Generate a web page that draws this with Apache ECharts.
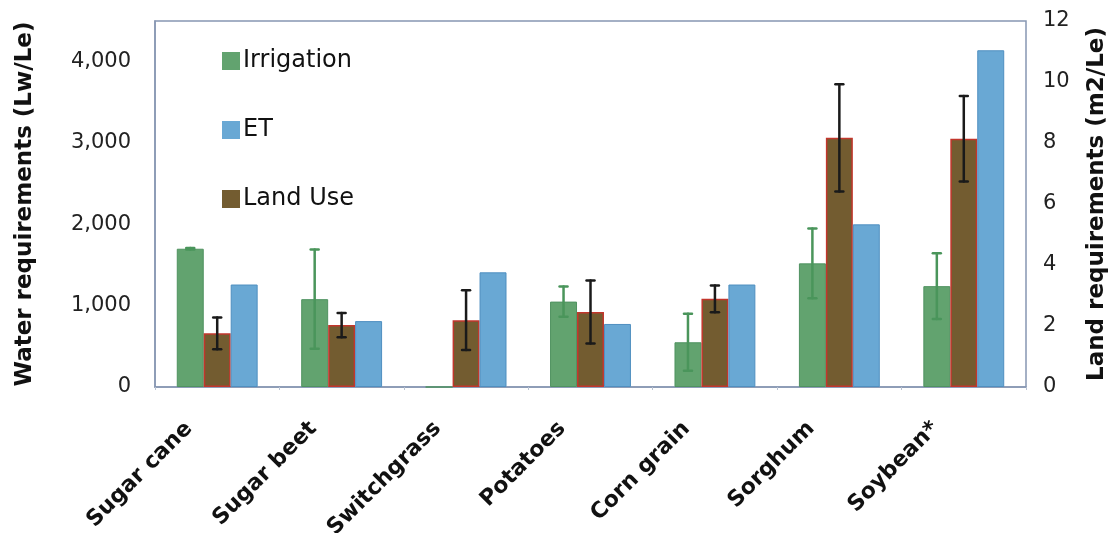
<!DOCTYPE html>
<html>
<head>
<meta charset="utf-8">
<title>Water and land requirements by crop</title>
<script src="https://cdn.jsdelivr.net/npm/echarts@6/dist/echarts.min.js"></script>
<style>
  html, body { margin: 0; padding: 0; background: #ffffff; }
  #chart { width: 1111px; height: 533px; }
</style>
</head>
<body>
<div id="chart"></div>
<script>
// Crops on the category axis
const crops = ['Sugar cane', 'Sugar beet', 'Switchgrass', 'Potatoes', 'Corn grain', 'Sorghum', 'Soybean*'];

// Water requirements (Lw/Le), left axis
const irrigation    = [1700, 1080, 0, 1050, 550, 1520, 1240];
const irrigationErr = [10, 610, 0, 185, 350, 430, 405];
const et            = [1260, 810, 1410, 775, 1260, 2000, 4140];

// Land requirements (m2/Le), right axis
const landUse    = [1.76, 2.03, 2.19, 2.46, 2.89, 8.17, 8.14];
const landUseErr = [0.52, 0.40, 0.98, 1.03, 0.44, 1.76, 1.40];

// Axis ticks
const waterTicks = [0, 1000, 2000, 3000, 4000];
const landTicks  = [0, 2, 4, 6, 8, 10, 12];

const FONT = 'DejaVu Sans, Verdana, sans-serif';
const GREEN = '#62a36f', BLUE = '#69a8d4', BROWN = '#735c30', RED = '#c2362c';
const CATEGORY_GAP = 0.35;

// Draws a vertical error bar with caps, shifted to sit on one bar of the group
function errorBar(slot, color, width) {
  return function (params, api) {
    const idx = api.value(0), val = api.value(1), err = api.value(2);
    if (!err) return null;
    const band = api.size([1, 0])[0];
    const barW = band * (1 - CATEGORY_GAP) / 3;
    const hi = api.coord([idx, val + err]);
    const lo = api.coord([idx, Math.max(0, val - err)]);
    const x = hi[0] + slot * barW;
    const cap = 4;
    const style = { stroke: color, lineWidth: width, lineCap: 'round' };
    return {
      type: 'group',
      children: [
        { type: 'line', shape: { x1: x, y1: hi[1], x2: x, y2: lo[1] }, style: style },
        { type: 'line', shape: { x1: x - cap, y1: hi[1], x2: x + cap, y2: hi[1] }, style: style },
        { type: 'line', shape: { x1: x - cap, y1: lo[1], x2: x + cap, y2: lo[1] }, style: style }
      ]
    };
  };
}

const chart = echarts.init(document.getElementById('chart'), null, { renderer: 'canvas' });

chart.setOption({
  backgroundColor: '#ffffff',
  animation: false,
  textStyle: { fontFamily: FONT },
  grid: {
    left: 155, right: 85, top: 21, bottom: 146,
    outerBoundsMode: 'none', containLabel: false,
    show: true, borderColor: '#8797b2', borderWidth: 1.5, backgroundColor: 'transparent'
  },
  legend: {
    orient: 'vertical',
    left: 217, top: 44,
    itemWidth: 18, itemHeight: 18,
    itemGap: 45,
    icon: 'rect',
    data: ['Irrigation', 'ET', 'Land Use'],
    itemStyle: { borderWidth: 0 },
    textStyle: { fontFamily: FONT, fontSize: 24, color: '#111111', padding: [0, 0, 0, -2] }
  },
  xAxis: {
    type: 'category',
    data: crops,
    axisLine: { lineStyle: { color: '#8797b2', width: 1.5 } },
    axisTick: { show: true, length: 3, lineStyle: { color: '#b8c2d2' } },
    axisLabel: {
      rotate: 45, margin: 10, padding: [0, 40, 0, 0],
      fontFamily: FONT, fontWeight: 'bold', fontSize: 22, color: '#111111'
    }
  },
  yAxis: [
    {
      type: 'value', min: 0, max: 4500, interval: 1000,
      name: 'Water requirements (Lw/Le)',
      nameLocation: 'middle', nameGap: 118, nameRotate: 90,
      nameTextStyle: { fontFamily: FONT, fontWeight: 'bold', fontSize: 23, color: '#111111' },
      axisLine: { show: true, lineStyle: { color: '#8797b2', width: 1.5 } },
      axisTick: { show: false },
      splitLine: { show: false },
      axisLabel: {
        margin: 24, fontFamily: FONT, fontSize: 21, color: '#222222',
        formatter: v => waterTicks.includes(v) ? v.toLocaleString('en-US') : ''
      }
    },
    {
      type: 'value', min: 0, max: 12, interval: 2,
      name: 'Land requirements (m2/Le)',
      nameLocation: 'middle', nameGap: 60, nameRotate: 90,
      nameTextStyle: { fontFamily: FONT, fontWeight: 'bold', fontSize: 23, color: '#111111' },
      axisLine: { show: false },
      axisTick: { show: false },
      splitLine: { show: false },
      axisLabel: {
        margin: 17, fontFamily: FONT, fontSize: 21, color: '#222222',
        formatter: v => landTicks.includes(v) ? String(v) : ''
      }
    }
  ],
  series: [
    {
      name: 'Irrigation', type: 'bar', yAxisIndex: 0,
      data: irrigation,
      barGap: '0%', barCategoryGap: (CATEGORY_GAP * 100) + '%',
      itemStyle: { color: GREEN, borderColor: '#4f9260', borderWidth: 1 }
    },
    {
      name: 'Land Use', type: 'bar', yAxisIndex: 1,
      data: landUse,
      itemStyle: { color: BROWN, borderColor: RED, borderWidth: 1.5 }
    },
    {
      name: 'ET', type: 'bar', yAxisIndex: 0,
      data: et,
      itemStyle: { color: BLUE, borderColor: '#4f8fc0', borderWidth: 1 }
    },
    {
      name: 'Irrigation error', type: 'custom', yAxisIndex: 0, z: 5,
      renderItem: errorBar(-1, '#4a955b', 2.5),
      encode: { x: 0, y: 1 },
      data: irrigation.map((v, i) => [i, v, irrigationErr[i]]),
      tooltip: { show: false }
    },
    {
      name: 'Land Use error', type: 'custom', yAxisIndex: 1, z: 5,
      renderItem: errorBar(0, '#1a1a1a', 2.5),
      encode: { x: 0, y: 1 },
      data: landUse.map((v, i) => [i, v, landUseErr[i]]),
      tooltip: { show: false }
    }
  ]
});
</script>
</body>
</html>
